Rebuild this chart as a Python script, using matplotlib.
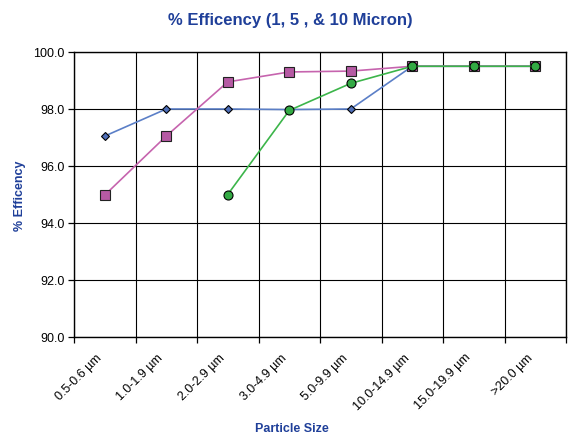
import matplotlib
matplotlib.use("Agg")
import matplotlib.pyplot as plt
import matplotlib.transforms as mtransforms
import numpy as np

categories = ["0.5-0.6 µm", "1.0-1.9 µm", "2.0-2.9 µm", "3.0-4.9 µm",
              "5.0-9.9 µm", "10.0-14.9 µm", "15.0-19.9 µm", ">20.0 µm"]
micron1 = [97.05, 98.0, 98.0, 97.98, 98.0, 99.5, 99.5, 99.5]
micron5 = [94.98, 97.05, 98.95, 99.3, 99.33, 99.5, 99.5, 99.5]
micron10 = [np.nan, np.nan, 95.0, 97.95, 98.9, 99.5, 99.5, 99.5]
yticks = [90.0, 92.0, 94.0, 96.0, 98.0, 100.0]

title_color = "#1F3F99"

fig = plt.figure(figsize=(5.69, 4.35), dpi=100)
ax = fig.add_axes([74/569, 97/435, (566-74)/569, (338-53)/435])

x = np.arange(len(categories))
ax.plot(x, micron1, color="#5B7FC7", lw=1.2, marker="D", ms=4.5,
        mfc="#4F6FB8", mec="black", mew=0.8, zorder=3)
ax.plot(x, micron5, color="#C664AE", lw=1.2, marker="s", ms=6.5,
        mfc="#B65AA4", mec="#222222", mew=0.8, zorder=4)
ax.plot(x, micron10, color="#3CB54A", lw=1.2, marker="o", ms=6.5,
        mfc="#33AA44", mec="black", mew=0.8, zorder=5)

ax.set_xlim(-0.5, len(categories) - 0.5)
ax.set_ylim(90, 100)
ax.set_yticks(yticks)
ax.set_yticklabels([f"{v:.1f}" for v in yticks], fontsize=9, family="Liberation Sans")
ax.set_xticks(x)
ax.set_xticklabels(categories, rotation=45, ha="right", rotation_mode="anchor",
                   fontsize=9, family="Liberation Sans")
ax.tick_params(axis="x", which="major", length=0, pad=10)
offset = mtransforms.ScaledTranslation(-9/100, 0, fig.dpi_scale_trans)
for lab in ax.get_xticklabels():
    lab.set_transform(lab.get_transform() + offset)
ax.set_xticks(np.arange(-0.5, len(categories) + 0.5, 1.0), minor=True)
ax.tick_params(axis="x", which="minor", length=4, width=0.9, direction="out")
ax.tick_params(axis="y", length=4, width=0.9, direction="out", pad=3)
ax.grid(True, which="minor", axis="x", color="black", lw=0.8)
ax.grid(True, which="major", axis="y", color="black", lw=0.8)
ax.set_axisbelow(True)
for s in ax.spines.values():
    s.set_color("black")
    s.set_linewidth(1.0)

ax.set_ylabel("% Efficency", color=title_color, fontsize=9, fontweight="bold",
              family="Liberation Sans", labelpad=5)
fig.text(292/569, 1 - 429/435, "Particle Size", ha="center", va="center",
         color=title_color, fontsize=9, fontweight="bold", family="Liberation Sans")
fig.text(290/569, 1 - 20/435, "% Efficency (1, 5 , & 10 Micron)", ha="center", va="center",
         color=title_color, fontsize=12, fontweight="bold", family="Liberation Sans")

fig.savefig("out.png", dpi=100)
